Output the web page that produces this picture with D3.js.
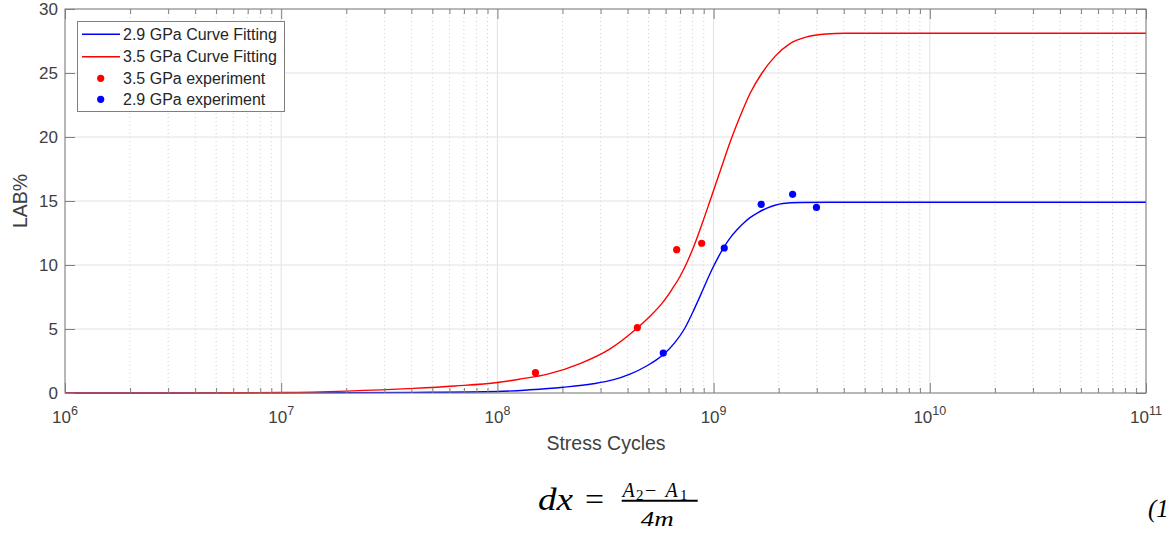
<!DOCTYPE html>
<html>
<head>
<meta charset="utf-8">
<script src="https://cdn.jsdelivr.net/npm/d3@7"></script>
<style>
  body { margin: 0; background: #fff; }
  svg { display: block; font-family: "Liberation Sans", Arial, Helvetica, sans-serif; }
  .tick text { fill: #404040; }
  .eq { font-family: "Liberation Serif", "Times New Roman", serif; font-style: italic; fill: #000; }
  .eq .up { font-style: normal; }
</style>
</head>
<body>
<svg id="chart" width="1173" height="533"></svg>
<script>
// ---- data -------------------------------------------------------------
// Curve fits of LAB% against stress cycles, sampled along each fit
const fit29Cycles = [1e6, 1e7, 4.08e7, 1e8, 1.415e8, 2.011e8, 2.77e8, 3.42e8, 4.105e8, 4.92e8,
                     5.416e8, 5.90e8, 6.63e8, 7.38e8, 8.03e8, 8.65e8, 9.22e8, 9.83e8, 1.048e9,
                     1.117e9, 1.191e9, 1.283e9, 1.382e9, 1.474e9, 1.605e9, 1.766e9, 1.923e9,
                     2.094e9, 2.51e9, 3.454e9, 1e11];
const fit29LAB    = [0, 0.01, 0.05, 0.12, 0.25, 0.45, 0.72, 1.02, 1.47, 2.13,
                     2.57, 3.05, 3.95, 5.1, 6.35, 7.55, 8.62, 9.65, 10.58,
                     11.4, 12.1, 12.75, 13.3, 13.7, 14.1, 14.45, 14.67,
                     14.8, 14.88, 14.9, 14.9];

const fit35Cycles = [1e6, 4.21e6, 1e7, 2.01e7, 4.08e7, 6.37e7, 1e8, 1.286e8, 1.69e8, 2.41e8,
                     3.32e8, 4.38e8, 5.08e8, 5.77e8, 6.42e8, 6.99e8, 7.53e8, 8.12e8, 8.84e8,
                     9.62e8, 1.071e9, 1.204e9, 1.325e9, 1.474e9, 1.675e9, 1.923e9, 2.256e9,
                     2.676e9, 3.311e9, 4.054e9, 7.3e9, 1e11];
const fit35LAB    = [0, 0.01, 0.04, 0.15, 0.36, 0.55, 0.82, 1.1, 1.45, 2.3,
                     3.45, 5.0, 6.0, 7.0, 8.1, 9.1, 10.2, 11.5, 13.2,
                     15.0, 17.3, 19.8, 21.6, 23.4, 25.0, 26.3, 27.3,
                     27.8, 28.05, 28.1, 28.1, 28.1];

// Measured points
const exp35Cycles = [1.50e8, 4.44e8, 6.75e8, 8.81e8];
const exp35LAB    = [1.59, 5.11, 11.2, 11.7];
const exp29Cycles = [5.85e8, 1.12e9, 1.66e9, 2.32e9, 2.99e9];
const exp29LAB    = [3.12, 11.33, 14.74, 15.52, 14.5];

// Axis ticks
const xTickExponents = [6, 7, 8, 9, 10, 11];
const yTickValues    = [0, 5, 10, 15, 20, 25, 30];

const legendLabels = ["2.9 GPa Curve Fitting", "3.5 GPa Curve Fitting",
                      "3.5 GPa experiment", "2.9 GPa experiment"];
const blue = "#0000ff", red = "#ff0000";

// ---- layout -----------------------------------------------------------
const svg = d3.select("#chart");
const plotL = 65, plotR = 1146, plotT = 9, plotB = 393;

const x = d3.scaleLog().domain([1e6, 1e11]).range([plotL, plotR]);
const y = d3.scaleLinear().domain([0, 30]).range([plotB, plotT]);

const majorX = xTickExponents.map(e => Math.pow(10, e));
const minorX = [];
for (let e = xTickExponents[0]; e < xTickExponents[xTickExponents.length - 1]; e++)
  for (let m = 2; m < 10; m++) minorX.push(m * Math.pow(10, e));

// ---- grid -------------------------------------------------------------
const grid = svg.append("g");
grid.selectAll(".minor").data(minorX).join("line")
  .attr("x1", d => x(d)).attr("x2", d => x(d))
  .attr("y1", plotT).attr("y2", plotB)
  .attr("stroke", "#cfcfcf").attr("stroke-width", 1)
  .attr("stroke-dasharray", "1,3");
grid.selectAll(".majx").data(majorX).join("line")
  .attr("x1", d => x(d)).attr("x2", d => x(d))
  .attr("y1", plotT).attr("y2", plotB)
  .attr("stroke", "#e2e2e2").attr("stroke-width", 1);
grid.selectAll(".majy").data(yTickValues).join("line")
  .attr("x1", plotL).attr("x2", plotR)
  .attr("y1", d => y(d)).attr("y2", d => y(d))
  .attr("stroke", "#e2e2e2").attr("stroke-width", 1);

// ---- curves and points -----------------------------------------------
const line = d3.line().x(d => x(d[0])).y(d => y(d[1])).curve(d3.curveMonotoneX);
const zip = (a, b) => a.map((v, i) => [v, b[i]]);

svg.append("path").datum(zip(fit29Cycles, fit29LAB))
  .attr("d", line).attr("fill", "none").attr("stroke", blue).attr("stroke-width", 1.4);
svg.append("path").datum(zip(fit35Cycles, fit35LAB))
  .attr("d", line).attr("fill", "none").attr("stroke", red).attr("stroke-width", 1.4);

svg.append("g").selectAll("circle").data(zip(exp35Cycles, exp35LAB)).join("circle")
  .attr("cx", d => x(d[0])).attr("cy", d => y(d[1])).attr("r", 3.6).attr("fill", red);
svg.append("g").selectAll("circle").data(zip(exp29Cycles, exp29LAB)).join("circle")
  .attr("cx", d => x(d[0])).attr("cy", d => y(d[1])).attr("r", 3.6).attr("fill", blue);

// ---- axes (inward ticks on all four sides) ----------------------------
const axisColor = "#7f7f7f";
function styleAxis(g) {
  g.select(".domain").remove();
  g.selectAll(".tick line").attr("stroke", axisColor);
}
svg.append("g").attr("transform", `translate(0,${plotB})`)
  .call(d3.axisBottom(x).tickValues(minorX).tickSize(-5).tickFormat("")).call(styleAxis);
svg.append("g").attr("transform", `translate(0,${plotT})`)
  .call(d3.axisTop(x).tickValues(minorX).tickSize(-5).tickFormat("")).call(styleAxis);
svg.append("g").attr("transform", `translate(0,${plotB})`)
  .call(d3.axisBottom(x).tickValues(majorX).tickSize(-10).tickFormat("")).call(styleAxis);
svg.append("g").attr("transform", `translate(0,${plotT})`)
  .call(d3.axisTop(x).tickValues(majorX).tickSize(-10).tickFormat("")).call(styleAxis);
svg.append("g").attr("transform", `translate(${plotR},0)`)
  .call(d3.axisRight(y).tickValues(yTickValues).tickSize(-10).tickFormat("")).call(styleAxis);
const yAxis = svg.append("g").attr("transform", `translate(${plotL},0)`)
  .call(d3.axisLeft(y).tickValues(yTickValues).tickSize(-10).tickPadding(7))
  .call(styleAxis);
yAxis.selectAll(".tick text").attr("font-size", 17).attr("font-family", null).attr("dy", "0.34em");

// Decade labels as 10 with a superscript exponent
const xLabels = svg.append("g").attr("fill", "#404040");
xTickExponents.forEach(e => {
  const t = xLabels.append("text")
    .attr("x", x(Math.pow(10, e))).attr("y", 423)
    .attr("text-anchor", "middle").attr("font-size", 17);
  t.append("tspan").text("10");
  t.append("tspan").attr("dy", -8).attr("font-size", 12.5).text(String(e));
});

// Frame
svg.append("rect")
  .attr("x", plotL).attr("y", plotT).attr("width", plotR - plotL).attr("height", plotB - plotT)
  .attr("fill", "none").attr("stroke", axisColor).attr("stroke-width", 1);

// Axis titles
svg.append("text").attr("x", (plotL + plotR) / 2 + 0.5).attr("y", 450)
  .attr("text-anchor", "middle").attr("font-size", 19.5).attr("fill", "#404040")
  .text("Stress Cycles");
svg.append("text").attr("transform", `translate(26.5,${(plotT + plotB) / 2}) rotate(-90)`)
  .attr("text-anchor", "middle").attr("font-size", 19.5).attr("fill", "#404040")
  .text("LAB%");

// ---- legend -----------------------------------------------------------
const lg = svg.append("g");
lg.append("rect").attr("x", 77.5).attr("y", 21.5).attr("width", 207).attr("height", 90)
  .attr("fill", "#fff").attr("stroke", axisColor).attr("stroke-width", 1);
const rowY = [34.3, 56.7, 78.3, 99.3];
const kinds = [["line", blue], ["line", red], ["dot", red], ["dot", blue]];
legendLabels.forEach((lab, i) => {
  const [kind, col] = kinds[i];
  if (kind === "line") {
    lg.append("line").attr("x1", 82).attr("x2", 120).attr("y1", rowY[i]).attr("y2", rowY[i])
      .attr("stroke", col).attr("stroke-width", 1.4);
  } else {
    lg.append("circle").attr("cx", 100.7).attr("cy", rowY[i]).attr("r", 3.6).attr("fill", col);
  }
  lg.append("text").attr("x", 123).attr("y", rowY[i] + 5.6)
    .attr("font-size", 16).attr("fill", "#262626").text(lab);
});

// ---- equation line below the chart ------------------------------------
const eq = svg.append("g").attr("class", "eq");
eq.append("text").attr("x", 538).attr("y", 509.5).attr("font-size", 32)
  .attr("textLength", 35).attr("lengthAdjust", "spacingAndGlyphs").text("dx");
eq.append("text").attr("class", "up").attr("x", 585).attr("y", 509.5).attr("font-size", 32)
  .attr("textLength", 19).attr("lengthAdjust", "spacingAndGlyphs").text("=");
// numerator A2 − A1
eq.append("text").attr("x", 622.5).attr("y", 496.5).attr("font-size", 20).text("A");
eq.append("text").attr("class", "up").attr("x", 636).attr("y", 499.5).attr("font-size", 15).text("2");
eq.append("text").attr("class", "up").attr("x", 645).attr("y", 496.5).attr("font-size", 20).text("\u2212");
eq.append("text").attr("x", 665.5).attr("y", 496.5).attr("font-size", 20).text("A");
eq.append("text").attr("class", "up").attr("x", 680).attr("y", 499.5).attr("font-size", 15).text("1");
eq.append("line").attr("x1", 621.7).attr("x2", 697.7).attr("y1", 500.7).attr("y2", 500.7)
  .attr("stroke", "#000").attr("stroke-width", 2);
eq.append("text").attr("x", 640.7).attr("y", 526).attr("font-size", 21)
  .attr("textLength", 33).attr("lengthAdjust", "spacingAndGlyphs").text("4m");
eq.append("text").attr("x", 1148).attr("y", 517).attr("font-size", 25).text("(1");
</script>
</body>
</html>
